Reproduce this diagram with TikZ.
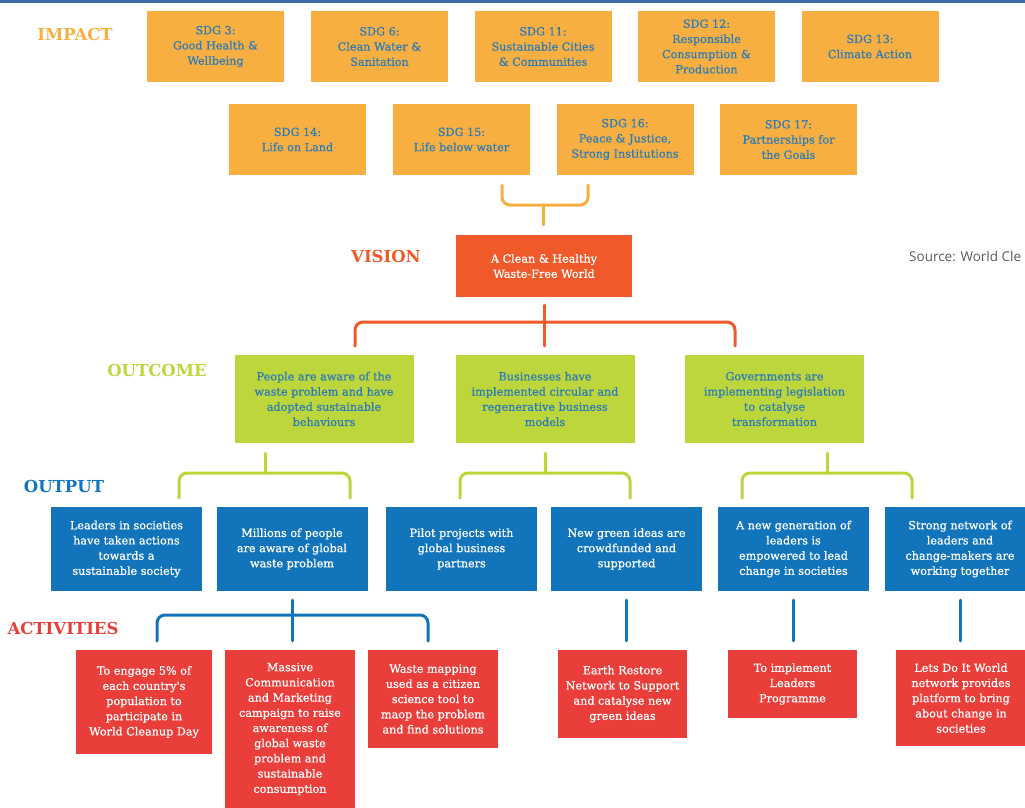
\documentclass[tikz,border=0pt]{standalone}
\usepackage{fontspec}
\setmainfont{DejaVu Serif}
\newfontfamily\boxfont{DejaVu Serif}[BoldFont={DejaVu Serif}, BoldFeatures={FakeBold=0.7}]
\newfontfamily\srcfont{Open Sans}
\definecolor{cImpact}{HTML}{F8AF42}
\definecolor{cVision}{HTML}{F05A2B}
\definecolor{cOutcome}{HTML}{BDD63B}
\definecolor{cOutput}{HTML}{1275BB}
\definecolor{cAct}{HTML}{E93E3A}
\definecolor{cTxt}{HTML}{2E7CB5}
\definecolor{cTop}{HTML}{3F69AA}
\definecolor{cSrc}{HTML}{5A5A5A}
\begin{document}
\begin{tikzpicture}[x=1pt,y=-1pt,
  box/.style={inner sep=0pt, align=center, font=\boxfont\bfseries\fontsize{11.2}{15.2}\selectfont},
  sz/.style 2 args={minimum width=#1pt, minimum height=#2pt},
  impactbox/.style={box, fill=cImpact, text=cTxt, sz={137}{71}},
  visionbox/.style={box, fill=cVision, text=white, sz={176}{62}},
  outcomebox/.style={box, fill=cOutcome, text=cTxt, sz={179}{88}},
  outputbox/.style={box, fill=cOutput, text=white, sz={151}{84}},
  actbox/.style={box, fill=cAct, text=white},
  lab/.style={font=\bfseries\fontsize{16.5}{20}\selectfont, inner sep=0pt},
  conn/.style={line width=3pt, line cap=round, rounded corners=8pt}]
\useasboundingbox (0,0) rectangle (1025,807);
\clip (0,0) rectangle (1025,807);
\fill[cTop] (0,0) rectangle (1025,3);

% labels
\node[lab, text=cImpact] (limpact) at (75,34) {IMPACT};
\node[lab, text=cVision] (lvision) at (386,256) {VISION};
\node[lab, text=cOutcome] (loutcome) at (157,370) {OUTCOME};
\node[lab, text=cOutput] (loutput) at (64,486) {OUTPUT};
\node[lab, text=cAct] (lact) at (63,628) {ACTIVITIES};
\node[anchor=west, inner sep=0pt, text=cSrc, font=\srcfont\fontsize{13.5}{16}\selectfont] (src) at (909,256) {Source: World Cle};

% impact
\node[impactbox] (s3) at (215.5,46.5) {SDG 3:\\Good Health \&\\Wellbeing};
\node[impactbox] (s6) at (379.5,46.5) {SDG 6:\\Clean Water \&\\Sanitation};
\node[impactbox] (s11) at (543,46.5) {SDG 11:\\Sustainable Cities\\\& Communities};
\node[impactbox] (s12) at (706.5,46.5) {SDG 12:\\Responsible\\Consumption \&\\Production};
\node[impactbox] (s13) at (870,46.5) {SDG 13:\\Climate Action};
\node[impactbox] (s14) at (297.5,139.5) {SDG 14:\\Life on Land};
\node[impactbox] (s15) at (461.5,139.5) {SDG 15:\\Life below water};
\node[impactbox] (s16) at (625,139.5) {SDG 16:\\Peace \& Justice,\\Strong Institutions};
\node[impactbox] (s17) at (788.5,139.5) {SDG 17:\\Partnerships for\\the Goals};

% vision
\node[visionbox] (vis) at (544,266) {A Clean \& Healthy\\Waste-Free World};

% outcome
\node[outcomebox] (o1) at (324,399) {People are aware of the\\waste problem and have\\adopted sustainable\\behaviours};
\node[outcomebox] (o2) at (545,399) {Businesses have\\implemented circular and\\regenerative business\\models};
\node[outcomebox] (o3) at (774.5,399) {Governments are\\implementing legislation\\to catalyse\\transformation};

% output
\node[outputbox] (p1) at (126.5,549) {Leaders in societies\\have taken actions\\towards a\\sustainable society};
\node[outputbox] (p2) at (292,549) {Millions of people\\are aware of global\\waste problem};
\node[outputbox] (p3) at (461.5,549) {Pilot projects with\\global business\\partners};
\node[outputbox] (p4) at (626.5,549) {New green ideas are\\crowdfunded and\\supported};
\node[outputbox] (p5) at (793.5,549) {A new generation of\\leaders is\\empowered to lead\\change in societies};
\node[outputbox] (p6) at (960,549) {Strong network of\\leaders and\\change-makers are\\working together};

% activities
\node[actbox, sz={136}{104}] (a1) at (144,702) {To engage 5\% of\\each country's\\population to\\participate in\\World Cleanup Day};
\node[actbox, sz={130}{158}] (a2) at (290,729) {Massive\\Communication\\and Marketing\\campaign to raise\\awareness of\\global waste\\problem and\\sustainable\\consumption};
\node[actbox, sz={130}{98}] (a3) at (433,699) {Waste mapping\\used as a citizen\\science tool to\\maop the problem\\and find solutions};
\node[actbox, sz={129}{88}] (a4) at (622.5,694) {Earth Restore\\Network to Support\\and catalyse new\\green ideas};
\node[actbox, sz={129}{68}] (a5) at (792.5,684) {To implement\\Leaders\\Programme};
\node[actbox, sz={130}{96}] (a6) at (961,698) {Lets Do It World\\network provides\\platform to bring\\about change in\\societies};

% impact -> vision bracket
\coordinate (t1) at (502,185);
\coordinate (t2) at (588,185);
\coordinate (tj) at (543,205);
\draw[conn, cImpact] (t1) |- (tj) -| (t2);
\draw[conn, cImpact, shorten >=10pt] (tj) -- (tj |- vis.north);

% vision -> outcome bracket
\coordinate (r1) at (355,346);
\coordinate (r2) at (735,346);
\coordinate (rj) at (544,322);
\draw[conn, cVision] (r1) |- (rj) -| (r2);
\draw[conn, cVision, shorten <=8pt, shorten >=9pt] (vis.south) -- (vis.south |- o2.north);

% outcome -> output brackets
\coordinate (g1s) at (265,453);
\coordinate (g1j) at (265,473);
\coordinate (g1a) at (179,498);
\coordinate (g1b) at (350,498);
\draw[conn, cOutcome] (g1s) -- (g1j);
\draw[conn, cOutcome] (g1a) |- (g1j) -| (g1b);
\coordinate (g2s) at (545,453);
\coordinate (g2j) at (545,473);
\coordinate (g2a) at (460,498);
\coordinate (g2b) at (630,498);
\draw[conn, cOutcome] (g2s) -- (g2j);
\draw[conn, cOutcome] (g2a) |- (g2j) -| (g2b);
\coordinate (g3s) at (827,453);
\coordinate (g3j) at (827,473);
\coordinate (g3a) at (742,498);
\coordinate (g3b) at (912,498);
\draw[conn, cOutcome] (g3s) -- (g3j);
\draw[conn, cOutcome] (g3a) |- (g3j) -| (g3b);

% output -> activities
\coordinate (b1j) at (292,615);
\coordinate (b1a) at (157,641);
\coordinate (b1b) at (428,641);
\draw[conn, cOutput] (b1a) |- (b1j) -| (b1b);
\draw[conn, cOutput, shorten <=9pt, shorten >=9pt] (p2.south) -- (p2.south |- a2.north);
\draw[conn, cOutput, shorten <=9pt, shorten >=9pt] (p4.south) -- (p4.south |- a4.north);
\draw[conn, cOutput, shorten <=9pt, shorten >=9pt] (p5.south) -- (p5.south |- a5.north);
\draw[conn, cOutput, shorten <=9pt, shorten >=9pt] (p6.south) -- (p6.south |- a6.north);
\end{tikzpicture}
\end{document}
